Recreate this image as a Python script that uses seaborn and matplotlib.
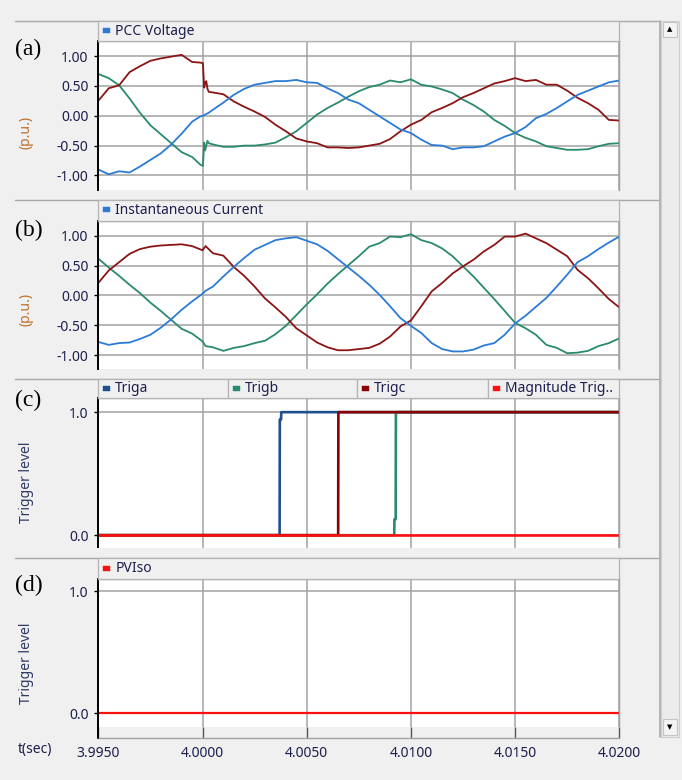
import numpy as np
import pandas as pd
import matplotlib
matplotlib.use("Agg")
import matplotlib.pyplot as plt
from matplotlib.patches import Rectangle
from matplotlib.lines import Line2D
import seaborn as sns

# ------------------------------------------------------------------ data
time_a = [3.9950, 3.9955, 3.9960, 3.9965, 3.9970, 3.9975, 3.9980, 3.9985, 3.9990, 3.9995,
          3.9999, 4.00002, 4.00008, 4.00013, 4.00018, 4.00024, 4.0003,
          4.0005, 4.0010, 4.0015, 4.0020, 4.0025, 4.0030, 4.0035, 4.0040, 4.0045, 4.0050,
          4.0055, 4.0060, 4.0065, 4.0070, 4.0075, 4.0080, 4.0085, 4.0090, 4.0095, 4.0100,
          4.0105, 4.0110, 4.0115, 4.0120, 4.0125, 4.0130, 4.0135, 4.0140, 4.0145, 4.0150,
          4.0155, 4.0160, 4.0165, 4.0170, 4.0175, 4.0180, 4.0185, 4.0190, 4.0195, 4.0200]
volt_red = [0.25, 0.46, 0.51, 0.73, 0.83, 0.92, 0.96, 0.99, 1.02, 0.90,
            0.89, 0.88, 0.47, 0.55, 0.58, 0.45, 0.40,
            0.39, 0.36, 0.24, 0.15, 0.07, -0.02, -0.15, -0.26, -0.38, -0.43,
            -0.46, -0.53, -0.53, -0.54, -0.53,
            -0.50, -0.47, -0.39, -0.26, -0.15, -0.07, 0.06, 0.13, 0.21, 0.31,
            0.38, 0.46, 0.54, 0.58, 0.63, 0.58, 0.60, 0.52, 0.52, 0.42,
            0.30, 0.21, 0.10, -0.07, -0.08]
volt_green = [0.70, 0.63, 0.51, 0.29, 0.05, -0.16, -0.31, -0.46, -0.61, -0.69,
              -0.82, -0.84, -0.45, -0.58, -0.50, -0.42, -0.46,
              -0.48, -0.52, -0.52, -0.50, -0.50, -0.48, -0.45, -0.36, -0.26, -0.12,
              0.02, 0.13, 0.22, 0.32, 0.41,
              0.48, 0.52, 0.59, 0.56, 0.61, 0.52, 0.49, 0.44, 0.38, 0.27,
              0.18, 0.07, -0.07, -0.17, -0.29, -0.37, -0.43, -0.51, -0.54, -0.57,
              -0.57, -0.56, -0.51, -0.47, -0.46]
volt_blue = [-0.90, -0.98, -0.93, -0.95, -0.85, -0.74, -0.63, -0.48, -0.30, -0.10,
             -0.01, 0.00, 0.01, 0.02, 0.03, 0.04, 0.05,
             0.10, 0.22, 0.35, 0.45, 0.52, 0.55, 0.58, 0.58, 0.60, 0.56,
             0.55, 0.46, 0.38, 0.27, 0.21,
             0.10, -0.01, -0.12, -0.23, -0.29, -0.40, -0.49, -0.50, -0.56, -0.53,
             -0.53, -0.51, -0.43, -0.35, -0.29, -0.19, -0.04, 0.03, 0.13, 0.24,
             0.35, 0.42, 0.49, 0.56, 0.59]

time_b = [3.9950, 3.9955, 3.9960, 3.9965, 3.9970, 3.9975, 3.9980, 3.9985, 3.9990, 3.9995, 4.0000,
          4.00015,
          4.0005, 4.0010, 4.0015, 4.0020, 4.0025, 4.0030, 4.0035, 4.0040, 4.0045, 4.0050,
          4.0055, 4.0060, 4.0065, 4.0070, 4.0075, 4.0080, 4.0085, 4.0090, 4.0095, 4.0100,
          4.0105, 4.0110, 4.0115, 4.0120, 4.0125, 4.0130, 4.0135, 4.0140, 4.0145, 4.0150,
          4.0155, 4.0160, 4.0165, 4.0170, 4.0175, 4.0180, 4.0185, 4.0190, 4.0195, 4.0200]
curr_red = [0.21, 0.42, 0.56, 0.70, 0.78, 0.82, 0.84, 0.85, 0.86, 0.83, 0.76,
            0.83,
            0.71, 0.67, 0.48, 0.33, 0.15, -0.05, -0.20, -0.36, -0.55, -0.67,
            -0.79, -0.87, -0.92, -0.92, -0.90,
            -0.88, -0.81, -0.69, -0.52, -0.42, -0.18, 0.07, 0.21, 0.37, 0.49,
            0.60, 0.74, 0.85, 0.99, 0.99, 1.04, 0.96, 0.88, 0.77, 0.66,
            0.43, 0.29, 0.12, -0.06, -0.20]
curr_green = [0.62, 0.47, 0.33, 0.18, 0.04, -0.12, -0.26, -0.41, -0.56, -0.64, -0.77,
              -0.85,
              -0.87, -0.93, -0.88, -0.85, -0.80, -0.76, -0.65, -0.51, -0.33, -0.15,
              0.02, 0.20, 0.36, 0.51, 0.66,
              0.82, 0.88, 0.99, 0.98, 1.03, 0.93, 0.88, 0.79, 0.66, 0.49,
              0.32, 0.13, -0.06, -0.26, -0.46, -0.55, -0.66, -0.83, -0.88, -0.97,
              -0.96, -0.93, -0.85, -0.80, -0.72]
curr_blue = [-0.78, -0.83, -0.80, -0.79, -0.73, -0.66, -0.54, -0.40, -0.24, -0.10, 0.03,
             0.08,
             0.15, 0.32, 0.48, 0.63, 0.77, 0.85, 0.93, 0.96, 0.98, 0.92,
             0.86, 0.75, 0.61, 0.47, 0.33,
             0.18, 0.01, -0.18, -0.38, -0.51, -0.63, -0.80, -0.90, -0.94, -0.94,
             -0.91, -0.84, -0.80, -0.66, -0.47, -0.34, -0.19, -0.04, 0.15, 0.35,
             0.56, 0.66, 0.78, 0.89, 0.99]

triga_t = [3.9950, 4.00370, 4.00371, 4.00377, 4.00378, 4.0200]
triga_v = [0.0, 0.0, 0.94, 0.94, 1.0, 1.0]
trigb_t = [3.9950, 4.00920, 4.00921, 4.00927, 4.00928, 4.0200]
trigb_v = [0.0, 0.0, 0.13, 0.13, 1.0, 1.0]
trigc_t = [3.9950, 4.00651, 4.00652, 4.0200]
trigc_v = [0.0, 0.0, 1.0, 1.0]
mag_t = [3.9950, 4.0200]
mag_v = [0.0, 0.0]
pviso_t = [3.9950, 4.0200]
pviso_v = [0.0, 0.0]

x_ticks = [3.9950, 4.0000, 4.0050, 4.0100, 4.0150, 4.0200]
x_tick_labels = ["3.9950", "4.0000", "4.0050", "4.0100", "4.0150", "4.0200"]
pu_ticks = [-1.0, -0.5, 0.0, 0.5, 1.0]
pu_tick_labels = ["-1.00", "-0.50", "0.00", "0.50", "1.00"]
trig_ticks = [0.0, 1.0]
trig_tick_labels = ["0.0", "1.0"]

# ------------------------------------------------------------------ style
BLUE = "#2b7bd6"
RED = "#8b1414"
GREEN = "#2a8a6c"
NAVY = "#1f4f8f"
TEAL = "#2a8a70"
DRED = "#8b0000"
BRED = "#ff1010"
BG = "#f0f0f0"
GRID = "#a2a2a2"
TXT = "#1d1f4d"
YLAB_PU = "#c0702a"
YLAB_TRIG = "#2f3a66"

sns.set_theme(style="white")
plt.rcParams['font.family'] = ['Noto Sans', 'DejaVu Sans']

W, H = 682, 780
fig = plt.figure(figsize=(W / 100, H / 100), dpi=100)
fig.patch.set_facecolor(BG)

L, R = 98.3, 619.3


def rect(top, bottom, left=L, right=R):
    return [left / W, 1 - bottom / H, (right - left) / W, (bottom - top) / H]


def fig_line(x0, y0, x1, y1, color, lw=1.0, z=5):
    fig.add_artist(Line2D([x0 / W, x1 / W], [1 - y0 / H, 1 - y1 / H],
                          color=color, lw=lw, zorder=z))


def fig_box(x0, y0, x1, y1, fc, ec, lw=0.8, z=3):
    fig.add_artist(Rectangle((x0 / W, 1 - y1 / H), (x1 - x0) / W, (y1 - y0) / H,
                             transform=fig.transFigure, facecolor=fc,
                             edgecolor=ec, lw=lw, zorder=z))


def fig_text(x, y, s, **kw):
    fig.text(x / W, 1 - y / H, s, **kw)


def style_axes(ax, ylim, yticks, ylabels, show_x=False):
    ax.set_facecolor("white")
    ax.set_xlim(x_ticks[0], x_ticks[-1])
    ax.set_ylim(*ylim)
    ax.set_xticks(x_ticks)
    ax.set_yticks(yticks)
    ax.set_yticklabels(ylabels)
    ax.grid(True, color=GRID, lw=1.1)
    ax.set_axisbelow(True)
    ax.set_xlabel("")
    ax.set_ylabel("")
    ax.tick_params(axis="y", length=3, width=1.0, color="black", labelsize=10,
                   labelcolor=TXT, pad=4, direction="out", left=True)
    ax.spines["left"].set_color("black")
    ax.spines["left"].set_linewidth(1.4)
    for s in ("top", "right"):
        ax.spines[s].set_color(GRID)
        ax.spines[s].set_linewidth(1.0)
    if show_x:
        ax.spines["bottom"].set_visible(True)
        ax.spines["bottom"].set_position(("outward", 8))
        ax.spines["bottom"].set_color(GRID)
        ax.spines["bottom"].set_linewidth(1.0)
        ax.set_xticklabels(x_tick_labels)
        ax.tick_params(axis="x", length=8, width=1.0, color="#555555", direction="in",
                       labelsize=10, labelcolor=TXT, pad=6, bottom=True)
    else:
        ax.spines["bottom"].set_visible(False)
        ax.set_xticklabels([])
        ax.tick_params(axis="x", length=0)


def legend_strip(top, bottom, boxes):
    for (x0, x1, color, label) in boxes:
        fig_box(x0, top, x1, bottom, BG, "#b4b4b4", lw=0.9)
        ymid = (top + bottom) / 2
        fig_box(x0 + 5, ymid - 2.5, x0 + 12, ymid + 2.5, color, color, lw=0.3, z=4)
        fig_text(x0 + 17, ymid + 0.5, label, fontsize=10, color=TXT, va="center",
                 ha="left", zorder=6)


# ------------------------------------------------------------------ panel (a)
ax_a = fig.add_axes(rect(40.5, 189.5))
for vals, col in ((volt_green, GREEN), (volt_red, RED), (volt_blue, BLUE)):
    sns.lineplot(x=time_a, y=vals, ax=ax_a, color=col, lw=1.3,
                 estimator=None, sort=False)
style_axes(ax_a, (-1.235, 1.26), pu_ticks, pu_tick_labels)

# ------------------------------------------------------------------ panel (b)
ax_b = fig.add_axes(rect(220.5, 369))
for vals, col in ((curr_green, GREEN), (curr_red, RED), (curr_blue, BLUE)):
    sns.lineplot(x=time_b, y=vals, ax=ax_b, color=col, lw=1.3,
                 estimator=None, sort=False)
style_axes(ax_b, (-1.235, 1.26), pu_ticks, pu_tick_labels)

# ------------------------------------------------------------------ panel (c)
ax_c = fig.add_axes(rect(398, 547.5))
for tt, vv, col in ((triga_t, triga_v, NAVY), (trigb_t, trigb_v, TEAL),
                    (trigc_t, trigc_v, DRED), (mag_t, mag_v, BRED)):
    sns.lineplot(x=tt, y=vv, ax=ax_c, color=col, lw=1.9,
                 estimator=None, sort=False)
style_axes(ax_c, (-0.1, 1.115), trig_ticks, trig_tick_labels)

# ------------------------------------------------------------------ panel (d)
ax_d = fig.add_axes(rect(578.5, 726.7))
sns.lineplot(x=pviso_t, y=pviso_v, ax=ax_d, color=BRED, lw=1.6,
             estimator=None, sort=False)
style_axes(ax_d, (-0.11, 1.105), trig_ticks, trig_tick_labels, show_x=True)
fig_line(L, 726.7, L, 738, "black", lw=1.4)

# ------------------------------------------------------------------ frame decorations
for y in (20.7, 199.5, 378.8, 558.3):
    fig_line(15, y, 658, y, "#a8a8a8", lw=1.0, z=2)

legend_strip(20.7, 40.5, [(L, R, BLUE, "PCC Voltage")])
legend_strip(199.5, 220.5, [(L, R, BLUE, "Instantaneous Current")])
legend_strip(378.8, 398, [(L, 227.7, NAVY, "Triga"), (227.7, 357.3, TEAL, "Trigb"),
                          (357.3, 488.3, DRED, "Trigc"),
                          (488.3, R, BRED, "Magnitude Trig..")])
legend_strip(558.3, 578.5, [(L, R, BRED, "PVIso")])

# y labels
for yc in (132, 309):
    fig_text(26, yc, "(p.u.)", rotation=90, fontsize=10, color=YLAB_PU,
             ha="center", va="center")
for yc in (482, 663):
    fig_text(26, yc, "Trigger level", rotation=90, fontsize=10, color=YLAB_TRIG,
             ha="center", va="center")

# panel letters
for lab, yc in (("(a)", 49), ("(b)", 230), ("(c)", 400), ("(d)", 585)):
    fig_text(15, yc, lab, fontsize=17, family="Liberation Serif", color="black",
             ha="left", va="center")

fig_text(18, 749, "t(sec)", fontsize=10, color=TXT, ha="left", va="center")

# scrollbar
fig_line(659.5, 20.7, 659.5, 737, "#a8a8a8", lw=1.2, z=2)
fig_box(661, 20.7, 678.5, 737, "#ececec", "#cfcfcf", lw=0.8, z=2)
fig_box(662.5, 22, 677, 37, "#f4f4f4", "#c4c4c4", lw=0.8, z=3)
fig_box(662.5, 719, 677, 735, "#f4f4f4", "#c4c4c4", lw=0.8, z=3)
fig_text(669.8, 29.5, "\u25B2", fontsize=5, color="black", ha="center", va="center",
         family="DejaVu Sans")
fig_text(669.8, 727, "\u25BC", fontsize=5, color="black", ha="center", va="center",
         family="DejaVu Sans")

fig.savefig("out.png", dpi=100, facecolor=fig.get_facecolor())
